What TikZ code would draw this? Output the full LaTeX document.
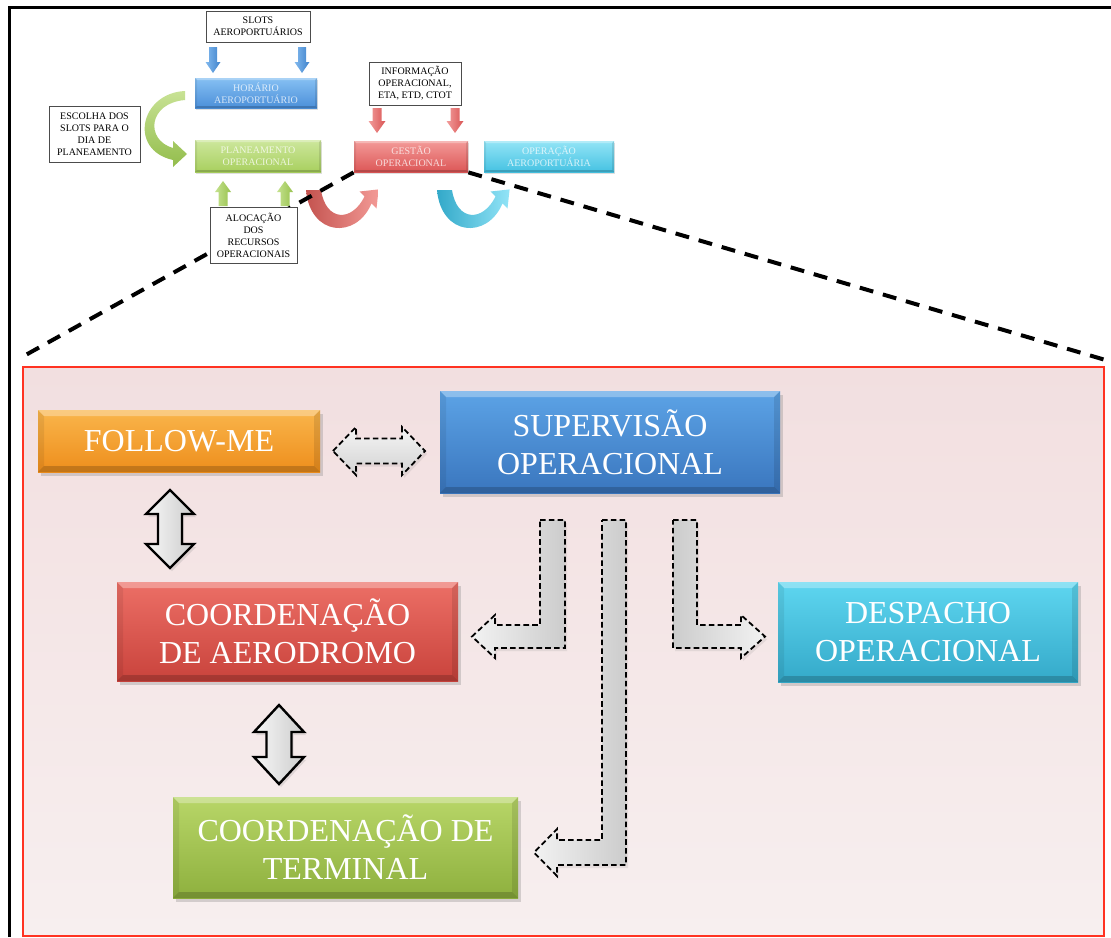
\documentclass[tikz,border=0pt]{standalone}
\usepackage{fontspec}
\setmainfont{Liberation Serif}
\usetikzlibrary{shadows,calc}

\definecolor{panelRed}{HTML}{FF3322}
\definecolor{panelTop}{HTML}{F2DFE0}
\definecolor{panelBot}{HTML}{F7EFEF}
\definecolor{orTop}{HTML}{F9B54B}
\definecolor{orBot}{HTML}{EE8E1C}
\definecolor{blTop}{HTML}{5CA3E6}
\definecolor{blBot}{HTML}{3A76BE}
\definecolor{rdTop}{HTML}{EC6F66}
\definecolor{rdBot}{HTML}{C9433C}
\definecolor{cyTop}{HTML}{5ED6F0}
\definecolor{cyBot}{HTML}{34A9C9}
\definecolor{gnTop}{HTML}{B8D668}
\definecolor{gnBot}{HTML}{8EB03E}
% small process boxes
\definecolor{sbTop}{HTML}{86C0F3}
\definecolor{sbBot}{HTML}{4B8FD9}
\definecolor{sgTop}{HTML}{CDE79D}
\definecolor{sgBot}{HTML}{A8CF5E}
\definecolor{srTop}{HTML}{F39A98}
\definecolor{srBot}{HTML}{DC5656}
\definecolor{scTop}{HTML}{93E4F6}
\definecolor{scBot}{HTML}{45C2E2}
% small block arrows
\definecolor{abL}{HTML}{82B9EE}
\definecolor{abR}{HTML}{3F83CC}
\definecolor{arL}{HTML}{F29C9A}
\definecolor{arR}{HTML}{D95555}
\definecolor{agL}{HTML}{C6E28F}
\definecolor{agR}{HTML}{97C24E}
\definecolor{curveRedL}{HTML}{C4534F}
\definecolor{curveRedR}{HTML}{F39A96}
\definecolor{curveCyL}{HTML}{33A9C9}
\definecolor{curveCyR}{HTML}{92E4F7}
\definecolor{curveGnT}{HTML}{C8E295}
\definecolor{curveGnB}{HTML}{93BD4C}

% vertical block arrow: x, tail y, tip y, shaft half width, head half width, head base y, style
\newcommand\vblock[7]{%
  \path[#7] (#1-#4,#2) -- (#1+#4,#2) -- (#1+#4,#6) -- (#1+#5,#6) -- (#1,#3)
    -- (#1-#5,#6) -- (#1-#4,#6) -- cycle;}

\tikzset{
  bevel/.style={path picture={
    \fill[white,opacity=0.3] (path picture bounding box.north west) -- (path picture bounding box.north east)
      -- ([shift={(-#1,-#1)}]path picture bounding box.north east) -- ([shift={(#1,-#1)}]path picture bounding box.north west) -- cycle;
    \fill[black,opacity=0.18] (path picture bounding box.south west) -- (path picture bounding box.south east)
      -- ([shift={(-#1,#1)}]path picture bounding box.south east) -- ([shift={(#1,#1)}]path picture bounding box.south west) -- cycle;
    \fill[black,opacity=0.07] (path picture bounding box.north west) -- ([shift={(#1,-#1)}]path picture bounding box.north west)
      -- ([shift={(#1,#1)}]path picture bounding box.south west) -- (path picture bounding box.south west) -- cycle;
    \fill[black,opacity=0.1] (path picture bounding box.north east) -- ([shift={(-#1,-#1)}]path picture bounding box.north east)
      -- ([shift={(-#1,#1)}]path picture bounding box.south east) -- (path picture bounding box.south east) -- cycle;
  }},
  bigbox/.style 2 args={inner sep=0pt, align=center, text=white,
    font=\fontsize{16}{19}\selectfont, top color=#1, bottom color=#2,
    drop shadow={shadow xshift=1.5pt, shadow yshift=-2pt, opacity=0.3}, bevel=3pt},
  topbox/.style 2 args={inner sep=0pt, align=center, text=white, text opacity=0.75,
    font=\fontsize{5}{6}\selectfont, top color=#1, bottom color=#2,
    drop shadow={shadow xshift=0.6pt, shadow yshift=-0.8pt, opacity=0.25}, bevel=1pt},
  notebox/.style={draw=black!70, line width=0.5pt, fill=white, inner sep=0pt, align=center,
    font=\fontsize{5}{6}\selectfont},
  blueArrow/.style={left color=abL, right color=abR},
  redArrow/.style={left color=arL, right color=arR},
  greenArrow/.style={left color=agL, right color=agR},
  zoomline/.style={line width=2pt, dash pattern=on 7pt off 5pt},
  solidarrow/.style={draw=black, line width=1.2pt, left color=gray!6, right color=gray!40,
    drop shadow={shadow xshift=1pt, shadow yshift=-1.5pt, opacity=0.2}},
  dasharrow/.style={draw=black, line width=0.9pt, dash pattern=on 2.8pt off 1.6pt,
    drop shadow={shadow xshift=1pt, shadow yshift=-1.5pt, opacity=0.15}},
  panelbox/.style={draw=panelRed, line width=1.2pt, top color=panelTop, bottom color=panelBot, inner sep=0pt}
}

\begin{document}
\begin{tikzpicture}[x=0.5pt,y=-0.5pt]
\useasboundingbox (0,0) rectangle (1111,937);

% outer frame
\draw[line width=1.5pt] (9,937) -- (9,7) -- (1111,7);

% detail panel
\node[panelbox, minimum width=540.5pt, minimum height=284.5pt] (panel) at (563.5,651.5) {};

% ---------- overview chain ----------
\node[notebox, minimum width=52pt, minimum height=15.5pt] (slots) at (258,26.5) {SLOTS\\AEROPORTUÁRIOS};
\node[topbox={sbTop}{sbBot}, minimum width=61pt, minimum height=15pt] (horario) at (256,93) {HORÁRIO\\AEROPORTUÁRIO};
\node[notebox, minimum width=45.5pt, minimum height=28pt] (escolha) at (94.5,134) {ESCOLHA DOS\\SLOTS PARA O\\DIA DE\\PLANEAMENTO};
\node[topbox={sgTop}{sgBot}, minimum width=63pt, minimum height=16pt] (plan) at (258,156) {PLANEAMENTO\\OPERACIONAL};
\node[notebox, minimum width=46pt, minimum height=21.5pt] (info) at (415,83.5) {INFORMAÇÃO\\OPERACIONAL,\\ETA, ETD, CTOT};
\node[topbox={srTop}{srBot}, minimum width=57pt, minimum height=15.5pt] (gestao) at (411,156.5) {GESTÃO\\OPERACIONAL};
\node[topbox={scTop}{scBot}, minimum width=65pt, minimum height=15.5pt] (operacao) at (549,156.5) {OPERAÇÃO\\AEROPORTUÁRIA};

% small straight block arrows
\vblock{213}{47}{73}{4}{7.5}{62}{blueArrow}
\vblock{302}{47}{73}{4}{7.5}{62}{blueArrow}
\vblock{377}{108}{133}{4.5}{8.5}{121}{redArrow}
\vblock{455}{108}{133}{4.5}{8.5}{121}{redArrow}
\vblock{223}{206}{181}{4.5}{8}{192}{greenArrow}
\vblock{285}{206}{181}{4.5}{8}{192}{greenArrow}

% curved arrow: schedule -> planning
\path[top color=curveGnT, bottom color=curveGnB]
  (185,91) .. controls (140,93) and (128,150) .. (173,160) -- (173,167) -- (187,154)
  -- (173,141) -- (173,148) .. controls (145,140) and (148,103) .. (185,100) -- cycle;

% U-shaped arrows below the chain
\path[left color=curveRedL, right color=curveRedR]
  (306,190) .. controls (310,236) and (356,240) .. (371.5,203.5) -- (376.5,208.5) -- (378.6,189.4)
  -- (359.5,191.5) -- (364.5,196.5) .. controls (352,222) and (326,222) .. (321,190) -- cycle;
\begin{scope}[shift={(131,0)}]
\path[left color=curveCyL, right color=curveCyR]
  (306,190) .. controls (310,236) and (356,240) .. (371.5,203.5) -- (376.5,208.5) -- (378.6,189.4)
  -- (359.5,191.5) -- (364.5,196.5) .. controls (352,222) and (326,222) .. (321,190) -- cycle;
\end{scope}

% zoom lines from the operational management box to the panel
\draw[zoomline] (gestao.south west) -- ($(panel.north west)+(-3,-7)$);
\draw[zoomline] (gestao.south east) -- ($(panel.north east)+(3,-5)$);

\node[notebox, minimum width=43.5pt, minimum height=28pt] (aloc) at (253.5,235) {ALOCAÇÃO\\DOS\\RECURSOS\\OPERACIONAIS};

% ---------- detail panel contents ----------
\node[bigbox={orTop}{orBot}, minimum width=141pt, minimum height=31pt] (follow) at (179,441) {FOLLOW-ME};
\node[bigbox={blTop}{blBot}, minimum width=170pt, minimum height=51pt] (sup) at (610,442) {SUPERVISÃO\\OPERACIONAL};
\node[bigbox={rdTop}{rdBot}, minimum width=170.5pt, minimum height=49.5pt] (aero) at (287.5,631.5) {COORDENAÇÃO\\DE AERODROMO};
\node[bigbox={cyTop}{cyBot}, minimum width=150pt, minimum height=50pt] (desp) at (928,632) {DESPACHO\\OPERACIONAL};
\node[bigbox={gnTop}{gnBot}, minimum width=172.5pt, minimum height=50.5pt] (term) at (345.5,847.5) {COORDENAÇÃO DE\\TERMINAL};

% follow-me <-> supervision
\path[dasharrow, top color=gray!8, bottom color=gray!35]
  (333,451) -- (356,427) -- (356,438.5) -- (402,438.5) -- (402,427) -- (425,451)
  -- (402,475) -- (402,463.5) -- (356,463.5) -- (356,475) -- cycle;

% follow-me <-> aerodrome coordination
\path[solidarrow]
  (170,490) -- (194,514) -- (182,514) -- (182,544) -- (194,544) -- (170,568)
  -- (146,544) -- (158,544) -- (158,514) -- (146,514) -- cycle;

% aerodrome <-> terminal coordination
\path[solidarrow]
  (279,705) -- (304,732) -- (291.5,732) -- (291.5,757) -- (304,757) -- (279,784)
  -- (254,757) -- (266.5,757) -- (266.5,732) -- (254,732) -- cycle;

% supervision -> aerodrome coordination
\path[dasharrow, left color=gray!10, right color=gray!40]
  (540,520) -- (565,520) -- (565,648) -- (495,648) -- (495,658) -- (472,636.5)
  -- (495,615) -- (495,625) -- (540,625) -- cycle;

% supervision -> terminal coordination
\path[dasharrow, left color=gray!10, right color=gray!40]
  (602,520) -- (626,520) -- (626,865) -- (557,865) -- (557,876) -- (534,852.5)
  -- (557,829) -- (557,840) -- (602,840) -- cycle;

% supervision -> dispatch
\path[dasharrow, left color=gray!40, right color=gray!10]
  (673,520) -- (697,520) -- (697,625) -- (741,625) -- (741,615) -- (765,636.5)
  -- (741,658) -- (741,648) -- (673,648) -- cycle;

\end{tikzpicture}
\end{document}
